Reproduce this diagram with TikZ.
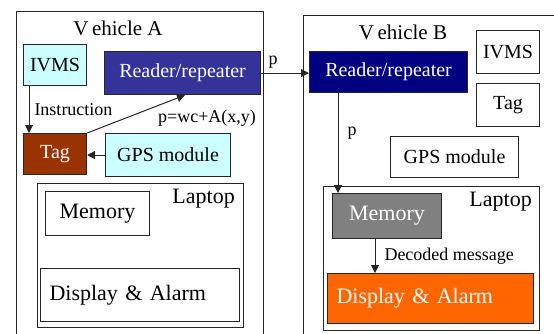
\documentclass[tikz,border=0pt]{standalone}
\usepackage{fontspec}
\setmainfont{Liberation Serif}
\usetikzlibrary{arrows.meta,calc}

\definecolor{lightcyan}{HTML}{CCFFFF}
\definecolor{readerblue}{HTML}{333399}
\definecolor{readernavy}{HTML}{000080}
\definecolor{tagbrown}{HTML}{993300}
\definecolor{memgrey}{HTML}{808080}
\definecolor{alarmorange}{HTML}{FF6600}

\tikzset{
  unit/.style={draw=black!85, line width=1.1pt, inner sep=0pt, anchor=north west,
    font=\fontsize{20}{22}\selectfont},
  bigunit/.style={unit, font=\fontsize{22}{24}\selectfont},
  container/.style={draw=black!85, line width=1.1pt, inner sep=0pt, anchor=north west},
  title/.style={inner sep=0pt, font=\fontsize{21}{24}\selectfont},
  edgelabel/.style={inner sep=0pt, font=\fontsize{18}{20}\selectfont},
  flow/.style={draw=black!85, line width=1pt, -{Triangle[length=8pt,width=8pt]}},
}

\begin{document}
\begin{tikzpicture}[x=1pt,y=-1pt]
\useasboundingbox (0,0) rectangle (554,333);
\clip (0,0) rectangle (554,333);

% ---------- Vehicle A ----------
\node[container, minimum width=247, minimum height=340] (vehA) at (16,11) {};
\node[title] (vehAtitle) at (118,28) {V\,ehicle A};

\node[unit, fill=lightcyan, minimum width=63, minimum height=41] (ivmsA) at (23,44) {IVMS};
\node[unit, fill=readerblue, text=white, minimum width=156, minimum height=43] (readerA) at (104,51) {Reader/repeater};
\node[unit, fill=tagbrown, text=white, minimum width=63, minimum height=41] (tagA) at (23,133) {Tag};
\node[unit, fill=lightcyan, minimum width=125, minimum height=43] (gpsA) at (105,133) {GPS module};

\node[container, minimum width=206, minimum height=144] (lapA) at (37,183) {};
\node[bigunit, minimum width=104, minimum height=44] (memA) at (45,191) {Memory};
\node[bigunit, minimum width=199, minimum height=53, text width=181, align=left] (dispA) at (40,268) {Display \& Alarm};
\node[title, anchor=north east, font=\fontsize{22}{24}\selectfont] (lapAtitle) at (235,189) {Laptop};

% ---------- Vehicle B ----------
\node[container, minimum width=300, minimum height=340] (vehB) at (303,15) {};
\node[title] (vehBtitle) at (403,32) {V\,ehicle B};

\node[unit, fill=readernavy, text=white, minimum width=158, minimum height=41] (readerB) at (309,51) {Reader/repeater};
\node[unit, minimum width=63, minimum height=43] (ivmsB) at (476,30) {IVMS};
\node[unit, minimum width=63, minimum height=43] (tagB) at (476,83) {Tag};
\node[unit, minimum width=128, minimum height=41] (gpsB) at (390,136) {GPS module};

\node[container, minimum width=216, minimum height=144] (lapB) at (323,186) {};
\node[bigunit, fill=memgrey, text=white, minimum width=109, minimum height=45] (memB) at (332,193) {Memory};
\node[bigunit, fill=alarmorange, text=white, minimum width=206, minimum height=50, text width=188, align=left] (dispB) at (327,273) {Display \& Alarm};
\node[title, anchor=north east, font=\fontsize{22}{24}\selectfont] (lapBtitle) at (532,192) {Laptop};

% ---------- Connectors ----------
\draw[flow] ($(ivmsA.south west)+(6,0)$) -- ($(tagA.north west)+(6,0)$)
  node[edgelabel, midway, right=5pt] (instr) {Instruction};
\draw[flow] (tagA.north east) -- ($(readerA.south west)+(81,0)$);
\node[edgelabel] (pformula) at (207,118) {p=wc+A(x,y)};
\draw[flow] (gpsA.west) -- (gpsA.west -| tagA.east);

\draw[flow] (readerA.east) -- (readerA.east -| readerB.west)
  node[edgelabel, pos=0.25, above=4pt] (pA) {p};

\coordinate (downB) at ($(readerB.south west)+(29,0)$);
\draw[flow] (downB) -- (downB |- memB.north)
  node[edgelabel, pos=0.4, right=9pt] (pB) {p};

\coordinate (decB) at ($(memB.south west)+(43,0)$);
\draw[flow] (decB) -- (decB |- dispB.north)
  node[edgelabel, midway, right=9pt] (decoded) {Decoded message};
\end{tikzpicture}
\end{document}
